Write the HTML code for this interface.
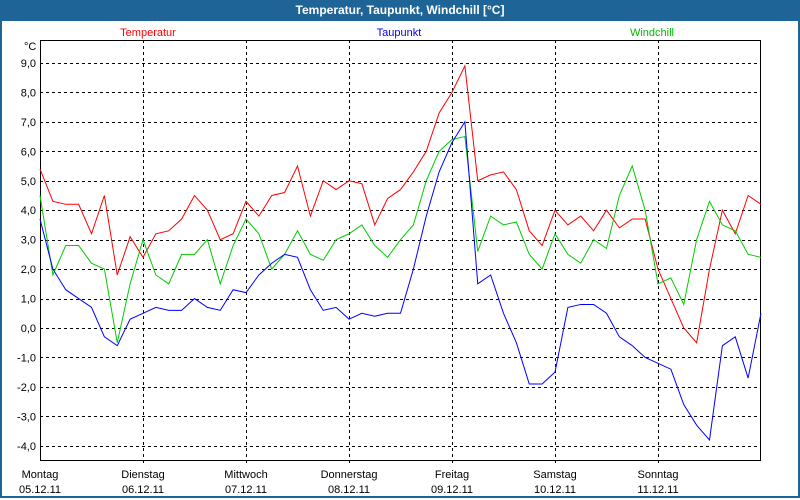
<!DOCTYPE html>
<html><head><meta charset="utf-8">
<style>
body{margin:0;width:800px;height:500px;overflow:hidden;background:#fff;font-family:"Liberation Sans",sans-serif}
#win{position:absolute;left:0;top:0;width:796px;height:496px;border:2px solid #1e6496;border-top:none;background:#fff}
#title{position:absolute;left:0;top:0;width:800px;height:21px;background:#1e6496;color:#fff;font-weight:bold;font-size:12px;text-align:center;line-height:21px}
svg{position:absolute;left:0;top:0}
</style></head><body>
<div id="win"></div>
<div id="title">Temperatur, Taupunkt, Windchill [°C]</div>
<svg id="chart" width="800" height="500" font-family="Liberation Sans, sans-serif" font-size="11"></svg>
<script>
const yTicks=[9,8,7,6,5,4,3,2,1,0,-1,-2,-3,-4];
const dayNames=["Montag","Dienstag","Mittwoch","Donnerstag","Freitag","Samstag","Sonntag"];
const dayDates=["05.12.11","06.12.11","07.12.11","08.12.11","09.12.11","10.12.11","11.12.11"];
const stepHours=3;
const temperatur=[5.4,4.3,4.2,4.2,3.2,4.5,1.8,3.1,2.4,3.2,3.3,3.7,4.5,4.0,3.0,3.2,4.3,3.8,4.5,4.6,5.5,3.8,5.0,4.7,5.0,4.9,3.5,4.4,4.7,5.3,6.0,7.3,8.0,8.9,5.0,5.2,5.3,4.7,3.3,2.8,4.0,3.5,3.8,3.3,4.0,3.4,3.7,3.7,2.0,1.0,0.0,-0.5,2.0,4.0,3.2,4.5,4.2];
const taupunkt=[3.7,2.0,1.3,1.0,0.7,-0.3,-0.6,0.3,0.5,0.7,0.6,0.6,1.0,0.7,0.6,1.3,1.2,1.8,2.2,2.5,2.4,1.3,0.6,0.7,0.3,0.5,0.4,0.5,0.5,2.0,3.8,5.3,6.3,7.0,1.5,1.8,0.5,-0.5,-1.9,-1.9,-1.5,0.7,0.8,0.8,0.5,-0.3,-0.6,-1.0,-1.2,-1.4,-2.6,-3.3,-3.8,-0.6,-0.3,-1.7,0.5];
const windchill=[4.5,1.8,2.8,2.8,2.2,2.0,-0.5,1.5,3.0,1.8,1.5,2.5,2.5,3.0,1.5,2.8,3.7,3.2,2.0,2.5,3.3,2.5,2.3,3.0,3.2,3.5,2.8,2.4,3.0,3.5,5.0,6.0,6.4,6.5,2.6,3.8,3.5,3.6,2.5,2.0,3.2,2.5,2.2,3.0,2.7,4.5,5.5,4.0,1.5,1.7,0.8,3.0,4.3,3.5,3.3,2.5,2.4];

const L=40,T=40,R=760,B=460,dayW=103;
const y=v=>328-29.45*v;
const x=h=>L+h/24*dayW;
const svg=document.getElementById('chart');
const NS="http://www.w3.org/2000/svg";
function mk(tag,attrs){const e=document.createElementNS(NS,tag);for(const k in attrs)e.setAttribute(k,attrs[k]);svg.appendChild(e);return e;}
yTicks.forEach(v=>{
  const yy=Math.round(y(v))+0.5;
  const g=mk('line',{x1:L,x2:R,y1:yy,y2:yy,stroke:'#000','stroke-dasharray':'3,3','shape-rendering':'crispEdges'});
  
  
  const t=mk('text',{x:36,y:y(v)+4,'text-anchor':'end',fill:'#000'});
  t.textContent=v.toFixed(1).replace('.',',');
  
  
});
dayNames.forEach((n,i)=>{
  const xx=x(i*24);
  if(i>0){const xr=Math.round(xx)+0.5;const g=mk('line',{x1:xr,x2:xr,y1:T,y2:B+3,stroke:'#000','stroke-dasharray':'3,3','shape-rendering':'crispEdges'});
  
  }
  const t1=mk('text',{x:xx,y:478,'text-anchor':'middle',fill:'#000'});t1.textContent=n;
  
  
  const t2=mk('text',{x:xx,y:493,'text-anchor':'middle',fill:'#000'});t2.textContent=dayDates[i];
  
  
});
const ax=mk('path',{d:`M${L+0.5} ${T+0.5}H${R+0.5}V${B+0.5}H${L+0.5}Z`,fill:'none',stroke:'#000','stroke-width':1,'shape-rendering':'crispEdges'});


const u=mk('text',{x:24,y:50,fill:'#000'});u.textContent='°C';


function series(arr,color,name){
  const p=mk('polyline',{points:arr.map((v,i)=>x(i*stepHours)+','+y(v)).join(' '),fill:'none',stroke:color,'stroke-width':1});
  
  
}
series(temperatur,'#f00','temperatur-line');
series(windchill,'#0c0','windchill-line');
series(taupunkt,'#00f','taupunkt-line');
[["Temperatur",'#f00',148],["Taupunkt",'#00f',399],["Windchill",'#0b0',652]].forEach(([n,c,xx])=>{
  const t=mk('text',{x:xx,y:36,'text-anchor':'middle',fill:c});t.textContent=n;
  
  
});
</script>
</body></html>
